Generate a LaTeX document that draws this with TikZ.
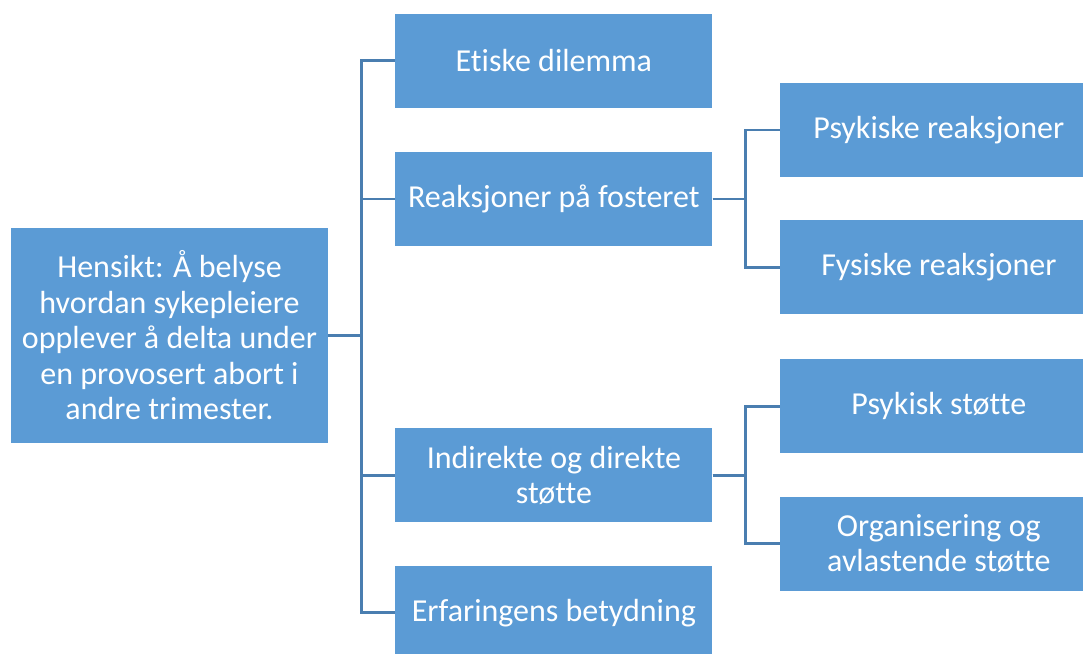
\documentclass[tikz,border=0pt]{standalone}
\usepackage{fontspec}
\setmainfont{Carlito}[Ligatures=NoCommon]
\usetikzlibrary{positioning}

\definecolor{boxblue}{HTML}{5B9BD5}
\definecolor{linkblue}{HTML}{4A7EB0}

\tikzset{
    topic/.style={fill=boxblue, text=white, align=center, inner sep=0pt,
        minimum width=317pt, minimum height=94pt,
        font=\fontsize{32}{35.5}\selectfont},
    link/.style={draw=linkblue, line width=2.8pt}
}

\begin{document}
\begin{tikzpicture}

    \useasboundingbox (0,0) rectangle (1083pt,-653pt);
    \clip (0,0) rectangle (1083pt,-653pt);

    \node[topic, minimum height=215pt] (aim) at (169.5pt,-335.5pt)
        {Hensikt: Å belyse\\hvordan sykepleiere\\opplever å delta under\\en provosert abort i\\andre trimester.};

    \node[topic, right=67pt of aim, yshift=275pt] (ethics) {Etiske dilemma};
    \node[topic, below=44pt of ethics] (reactions) {Reaksjoner på fosteret};
    \node[topic, below=182pt of reactions] (support) {Indirekte og direkte\\støtte};
    \node[topic, below=43pt of support] (experience) {Erfaringens betydning};

    \node[topic, minimum width=318pt, right=67pt of reactions, yshift=69pt] (psych) {Psykiske reaksjoner};
    \node[topic, minimum width=318pt, below=43pt of psych] (phys) {Fysiske reaksjoner};

    \node[topic, minimum width=318pt, right=67pt of support, yshift=69pt] (psychsup) {Psykisk støtte};
    \node[topic, minimum width=318pt, below=43pt of psychsup] (organising) {Organisering og\\avlastende støtte};

    % root to first level
    \foreach \child in {ethics, reactions, support, experience}
        \draw[link] (aim.east) -- ++(33pt,0) |- (\child.west);

    % second level
    \foreach \child in {psych, phys}
        \draw[link] (reactions.east) -- ++(33pt,0) |- (\child.west);
    \foreach \child in {psychsup, organising}
        \draw[link] (support.east) -- ++(33pt,0) |- (\child.west);

\end{tikzpicture}
\end{document}
